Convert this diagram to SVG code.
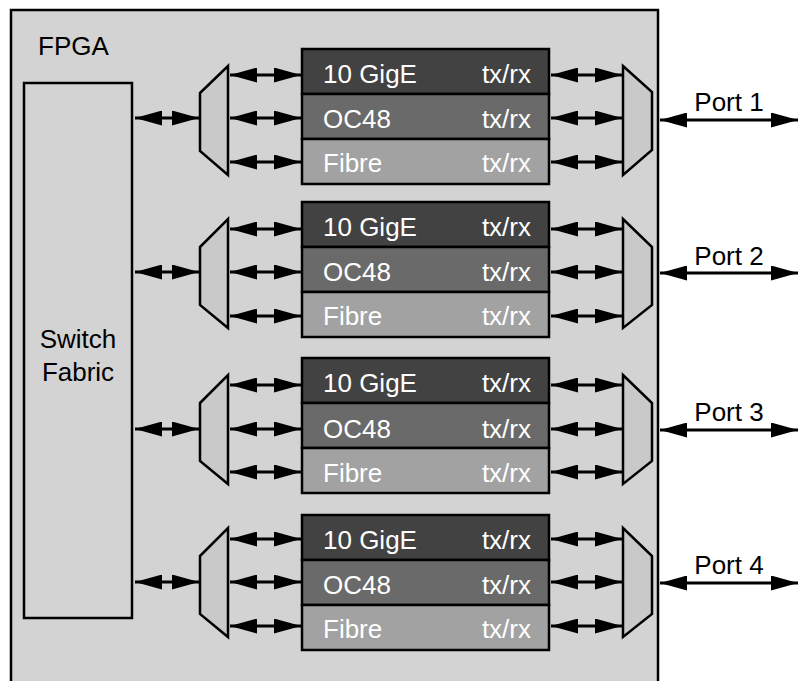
<svg xmlns="http://www.w3.org/2000/svg" width="799" height="681" viewBox="0 0 799 681">
<defs>
<style>
text{font-family:"Liberation Sans",Arial,Helvetica,sans-serif;font-size:26px}
.dark{fill:#fff}
.blk{fill:#000}
.frame{fill:#d3d3d3;stroke:#000;stroke-width:2.5}
.r1{fill:#424242;stroke:#000;stroke-width:2.5}
.r2{fill:#6a6a6a;stroke:#000;stroke-width:2.5}
.r3{fill:#a2a2a2;stroke:#000;stroke-width:2.5}
.mux{fill:#c9c9c9;stroke:#000;stroke-width:2.5;stroke-linejoin:miter}
.arr{stroke:#000;stroke-width:3;fill:none;marker-start:url(#ah);marker-end:url(#ah)}
</style>
<marker id="ah" viewBox="0 0 27 15" refX="27" refY="7.5" markerWidth="27" markerHeight="15" markerUnits="userSpaceOnUse" orient="auto-start-reverse">
<path d="M0,0 L27,7.5 L0,15 Z" fill="#000"/>
</marker>
</defs>
<rect width="799" height="681" fill="#fff"/>
<g id="fpga">
<rect class="frame" x="11" y="10" width="647" height="700"/>
<text class="blk" x="38" y="55">FPGA</text>
</g>
<g id="switch-fabric">
<rect class="frame" x="24" y="83" width="108" height="535"/>
<text class="blk" x="78" y="348" text-anchor="middle">Switch</text>
<text class="blk" x="78" y="381" text-anchor="middle">Fabric</text>
</g>

<g id="block1">
<rect class="r1" x="302" y="49" width="247" height="45"/>
<rect class="r2" x="302" y="94" width="247" height="45"/>
<rect class="r3" x="302" y="139" width="247" height="45"/>
<text class="dark" x="323" y="83">10 GigE</text><text class="dark" x="531" y="83" text-anchor="end">tx/rx</text>
<text class="dark" x="323" y="128">OC48</text><text class="dark" x="531" y="128" text-anchor="end">tx/rx</text>
<text class="dark" x="323" y="172">Fibre</text><text class="dark" x="531" y="172" text-anchor="end">tx/rx</text>
</g>
<g id="block2">
<rect class="r1" x="302" y="202" width="247" height="45"/>
<rect class="r2" x="302" y="247" width="247" height="45"/>
<rect class="r3" x="302" y="292" width="247" height="45"/>
<text class="dark" x="323" y="236">10 GigE</text><text class="dark" x="531" y="236" text-anchor="end">tx/rx</text>
<text class="dark" x="323" y="281">OC48</text><text class="dark" x="531" y="281" text-anchor="end">tx/rx</text>
<text class="dark" x="323" y="325">Fibre</text><text class="dark" x="531" y="325" text-anchor="end">tx/rx</text>
</g>
<g id="block3">
<rect class="r1" x="302" y="358" width="247" height="45"/>
<rect class="r2" x="302" y="403" width="247" height="45"/>
<rect class="r3" x="302" y="448" width="247" height="45"/>
<text class="dark" x="323" y="392">10 GigE</text><text class="dark" x="531" y="392" text-anchor="end">tx/rx</text>
<text class="dark" x="323" y="438">OC48</text><text class="dark" x="531" y="438" text-anchor="end">tx/rx</text>
<text class="dark" x="323" y="482">Fibre</text><text class="dark" x="531" y="482" text-anchor="end">tx/rx</text>
</g>
<g id="block4">
<rect class="r1" x="302" y="515" width="247" height="45"/>
<rect class="r2" x="302" y="560" width="247" height="45"/>
<rect class="r3" x="302" y="605" width="247" height="45"/>
<text class="dark" x="323" y="549">10 GigE</text><text class="dark" x="531" y="549" text-anchor="end">tx/rx</text>
<text class="dark" x="323" y="594">OC48</text><text class="dark" x="531" y="594" text-anchor="end">tx/rx</text>
<text class="dark" x="323" y="638">Fibre</text><text class="dark" x="531" y="638" text-anchor="end">tx/rx</text>
</g>

<g id="mux-left-1"><polygon class="mux" points="200,93 228,66 228,175 200,151"/></g>
<g id="mux-left-2"><polygon class="mux" points="200,247 228,219 228,328 200,305"/></g>
<g id="mux-left-3"><polygon class="mux" points="200,403 228,375 228,484 200,461"/></g>
<g id="mux-left-4"><polygon class="mux" points="200,556 228,528 228,637 200,614"/></g>
<g id="mux-right-1"><polygon class="mux" points="623,66 652,92 652,150 623,175"/></g>
<g id="mux-right-2"><polygon class="mux" points="623,219 652,247 652,305 623,328"/></g>
<g id="mux-right-3"><polygon class="mux" points="623,375 652,403 652,461 623,484"/></g>
<g id="mux-right-4"><polygon class="mux" points="623,528 652,556 652,614 623,637"/></g>

<g id="ports">
<text class="blk" x="729" y="111" text-anchor="middle">Port 1</text>
<text class="blk" x="729" y="265" text-anchor="middle">Port 2</text>
<text class="blk" x="729" y="421" text-anchor="middle">Port 3</text>
<text class="blk" x="729" y="574" text-anchor="middle">Port 4</text>
</g>

<g id="connectors">
<line class="arr" x1="135" y1="118" x2="199" y2="118"/>
<line class="arr" x1="230" y1="75" x2="301" y2="75"/>
<line class="arr" x1="230" y1="118" x2="301" y2="118"/>
<line class="arr" x1="230" y1="162" x2="301" y2="162"/>
<line class="arr" x1="551" y1="75" x2="622" y2="75"/>
<line class="arr" x1="551" y1="118" x2="622" y2="118"/>
<line class="arr" x1="551" y1="162" x2="622" y2="162"/>
<line class="arr" x1="660" y1="120" x2="798" y2="120"/>

<line class="arr" x1="135" y1="272" x2="199" y2="272"/>
<line class="arr" x1="230" y1="229" x2="301" y2="229"/>
<line class="arr" x1="230" y1="272" x2="301" y2="272"/>
<line class="arr" x1="230" y1="316" x2="301" y2="316"/>
<line class="arr" x1="551" y1="229" x2="622" y2="229"/>
<line class="arr" x1="551" y1="272" x2="622" y2="272"/>
<line class="arr" x1="551" y1="316" x2="622" y2="316"/>
<line class="arr" x1="660" y1="273" x2="798" y2="273"/>

<line class="arr" x1="135" y1="429" x2="199" y2="429"/>
<line class="arr" x1="230" y1="385" x2="301" y2="385"/>
<line class="arr" x1="230" y1="429" x2="301" y2="429"/>
<line class="arr" x1="230" y1="472" x2="301" y2="472"/>
<line class="arr" x1="551" y1="385" x2="622" y2="385"/>
<line class="arr" x1="551" y1="429" x2="622" y2="429"/>
<line class="arr" x1="551" y1="472" x2="622" y2="472"/>
<line class="arr" x1="660" y1="430" x2="798" y2="430"/>

<line class="arr" x1="135" y1="582" x2="199" y2="582"/>
<line class="arr" x1="230" y1="539" x2="301" y2="539"/>
<line class="arr" x1="230" y1="582" x2="301" y2="582"/>
<line class="arr" x1="230" y1="626" x2="301" y2="626"/>
<line class="arr" x1="551" y1="539" x2="622" y2="539"/>
<line class="arr" x1="551" y1="582" x2="622" y2="582"/>
<line class="arr" x1="551" y1="626" x2="622" y2="626"/>
<line class="arr" x1="660" y1="583" x2="798" y2="583"/>
</g>
</svg>
